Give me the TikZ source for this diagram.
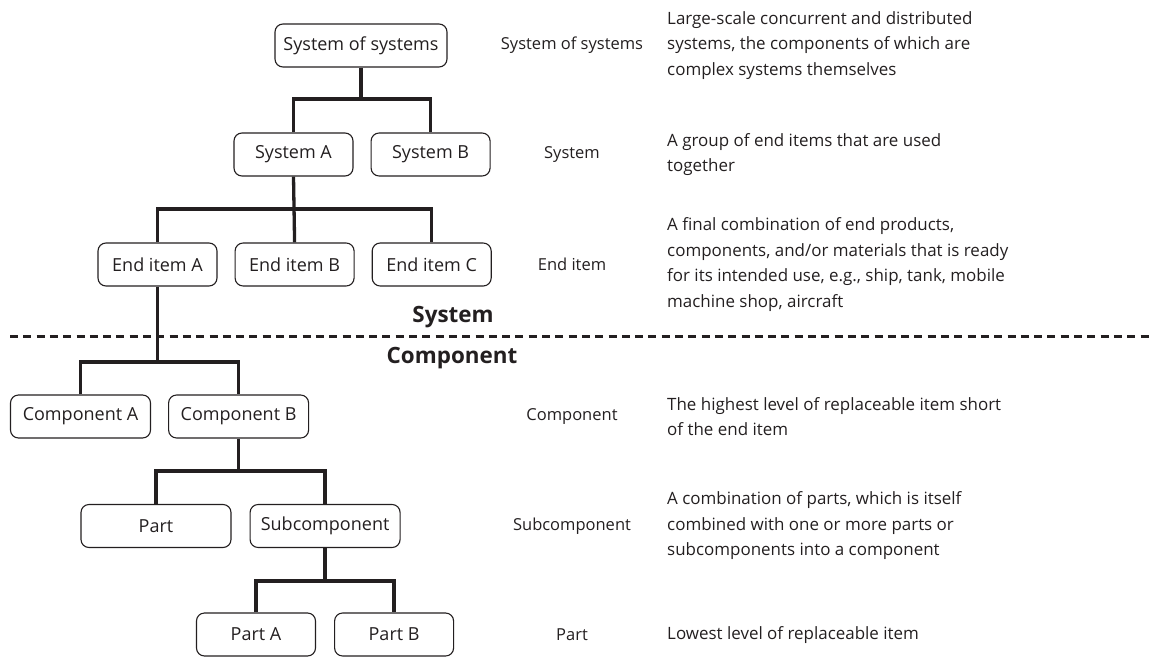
\documentclass[tikz,border=0pt]{standalone}
\usepackage{fontspec}
\setmainfont{Open Sans}
\usepackage{tikz}
\usetikzlibrary{positioning}

\definecolor{inkgray}{HTML}{231F20}

\tikzset{
  itembox/.style={draw=inkgray, line width=1.1pt, rounded corners=8pt,
    minimum height=43pt, inner sep=0pt, text=inkgray,
    font=\fontsize{18}{22}\selectfont},
  tree/.style={draw=inkgray, line width=3.3pt},
  levelname/.style={text=inkgray, inner sep=0pt, font=\fontsize{16.5}{20}\selectfont},
  levelnote/.style={anchor=west, align=left, inner sep=0pt, text=inkgray,
    font=\fontsize{16.95}{25.5}\selectfont},
  divlabel/.style={text=inkgray, inner sep=0pt, font=\bfseries\fontsize{22.4}{26}\selectfont}
}

\begin{document}
\begin{tikzpicture}[x=1pt, y=-1pt]
      \useasboundingbox (0,0) rectangle (1151,656);

      % System levels
      \node[itembox, minimum width=172pt] (sos) at (361,45.5) {System of systems};
      \node[itembox, minimum width=119pt] (sysA) at (293.5,154.5) {System A};
      \node[itembox, minimum width=119pt, right=17pt of sysA] (sysB) {System B};
      \node[itembox, minimum width=119pt] (endA) at (157.5,264.5) {End item A};
      \node[itembox, minimum width=119pt, right=17pt of endA] (endB) {End item B};
      \node[itembox, minimum width=119pt, right=17pt of endB] (endC) {End item C};

      % Component levels
      \node[itembox, minimum width=140pt] (compA) at (80.5,416.5) {Component A};
      \node[itembox, minimum width=140pt, right=17pt of compA] (compB) {Component B};
      \node[itembox, minimum width=150pt] (part) at (156,526) {Part};
      \node[itembox, minimum width=150pt, right=18pt of part] (subc) {Subcomponent};
      \node[itembox, minimum width=119pt] (partA) at (256,634.5) {Part A};
      \node[itembox, minimum width=119pt, right=18pt of partA] (partB) {Part B};

      % Tree connectors
      \coordinate (j1) at (sos.south |- 0,99);
      \coordinate (j2) at (sysA.south |- 0,209);
      \coordinate (j3) at (endA.south |- 0,362);
      \coordinate (j4) at (compB.south |- 0,471);
      \coordinate (j5) at (subc.south |- 0,581);
      \draw[tree] (sos.south) -- (j1);
      \draw[tree] (sysA.north) |- (j1) -| (sysB.north);
      \draw[tree] (sysA.south) -- (endB.north);
      \draw[tree] (endA.north) |- (j2) -| (endC.north);
      \draw[tree] (endA.south) -- (j3);
      \draw[tree] (compA.north) |- (j3) -| (compB.north);
      \draw[tree] (compB.south) -- (j4);
      \draw[tree] (part.north) |- (j4) -| (subc.north);
      \draw[tree] (subc.south) -- (j5);
      \draw[tree] (partA.north) |- (j5) -| (partB.north);

      % Divider between system and component
      \coordinate (divL) at (10,336);
      \coordinate (divR) at (1151,336);
      \draw[inkgray, line width=3pt, dash pattern=on 8pt off 5.3pt] (divL) -- (divR);
      \node[divlabel] (sysside) at (453,317) {System};
      \node[divlabel] (compside) at (452,358) {Component};

      % Level names
      \foreach \lvl/\y/\txt in {sos/45.5/System of systems, sys/154.5/System,
          end/264.5/End item, comp/416.5/Component, sub/526/Subcomponent, part/635/Part} {
        \node[levelname] (name-\lvl) at (572,\y) {\txt};
      }

      % Level descriptions
      \node[levelnote] (note-sos) at (667,45.5) {Large-scale concurrent and distributed\\
        systems, the components of which are\\complex systems themselves};
      \node[levelnote] (note-sys) at (667,154.5) {A group of end items that are used\\together};
      \node[levelnote] (note-end) at (667,264.5) {A final combination of end products,\\
        components, and/or materials that is ready\\for its intended use, e.g., ship, tank, mobile\\
        machine shop, aircraft};
      \node[levelnote] (note-comp) at (667,416.5) {The highest level of replaceable item short\\of the end item};
      \node[levelnote] (note-sub) at (667,526) {A combination of parts, which is itself\\
        combined with one or more parts or\\subcomponents into a component};
      \node[levelnote] (note-part) at (667,635) {Lowest level of replaceable item};
    \end{tikzpicture}
\end{document}
